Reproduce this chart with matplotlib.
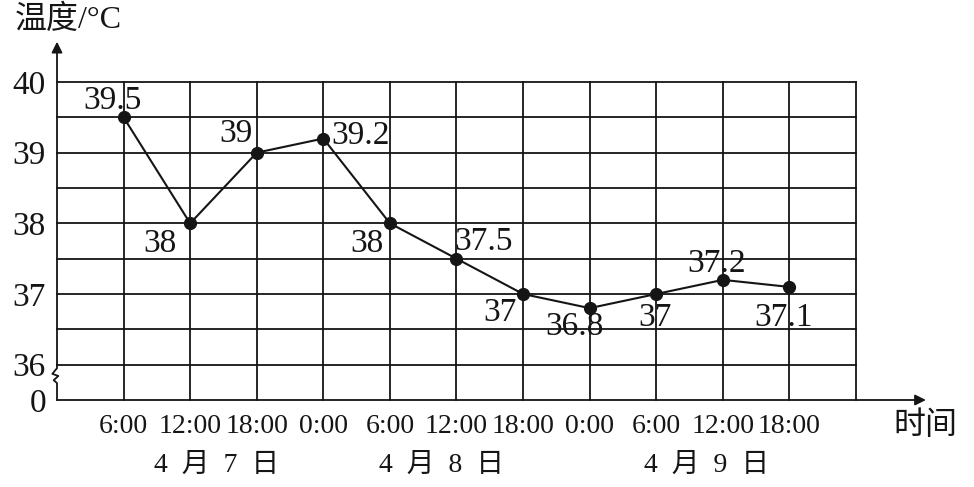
import matplotlib
matplotlib.use('Agg')
import matplotlib.pyplot as plt

plt.rcParams['font.family'] = ['Liberation Serif', 'Noto Sans CJK SC', 'DejaVu Sans']

# ── data ──────────────────────────────────────────────────────────────────
times = ['6:00', '12:00', '18:00', '0:00', '6:00', '12:00', '18:00',
         '0:00', '6:00', '12:00', '18:00']
temps = [39.5, 38, 39, 39.2, 38, 37.5, 37, 36.8, 37, 37.2, 37.1]
point_labels = ['39.5', '38', '39', '39.2', '38', '37.5', '37', '36.8', '37', '37.2', '37.1']
days = ['4  月  7  日', '4  月  8  日', '4  月  9  日']
y_ticks = [35.5, 36, 37, 38, 39, 40]
y_tick_labels = ['0', '36', '37', '38', '39', '40']

# label offsets (pixels) relative to each point
label_dx = [-11, -30, -21, 37, -23, 27, -23, -15, -1, -6, -6]
label_dy = [17, -20, 19, 3, -20, 17, -19, -19, -24, 16, -31]
day_x = [2.4, 5.77, 9.76]

ink = '#151515'
fig = plt.figure(figsize=(9.74, 4.87), dpi=100)
ax = fig.add_axes([57 / 974, 87 / 487, 799 / 974, 318 / 487])
ax.set_xlim(0, 12)
ax.set_ylim(35.5, 40)
for s in ax.spines.values():
    s.set_visible(False)

# grid
lw = 1.3
for gx in range(1, 13):
    ax.plot([gx, gx], [35.5, 40], color=ink, lw=lw, clip_on=False)
for k in range(1, 10):
    gy = 35.5 + 0.5 * k
    ax.plot([0, 12], [gy, gy], color=ink, lw=lw, clip_on=False)

# axes with arrows and break
ax.annotate('', xy=(13.05, 35.5), xytext=(0, 35.5),
            arrowprops=dict(arrowstyle='-|>', color=ink, lw=lw,
                            mutation_scale=16, shrinkA=0, shrinkB=0),
            annotation_clip=False)
ax.annotate('', xy=(0, 40.57), xytext=(0, 36),
            arrowprops=dict(arrowstyle='-|>', color=ink, lw=lw,
                            mutation_scale=16, shrinkA=0, shrinkB=0),
            annotation_clip=False)
zx = [0, 0, -0.07, 0.02, -0.05, 0, 0]
zy = [36, 35.95, 35.87, 35.84, 35.78, 35.74, 35.5]
ax.plot(zx, zy, color=ink, lw=lw, clip_on=False)

# line and points
xs = list(range(1, len(temps) + 1))
ax.plot(xs, temps, color=ink, lw=1.5, marker='o', markersize=8.5,
        clip_on=False, zorder=3)
for x, t, lab, dx, dy in zip(xs, temps, point_labels, label_dx, label_dy):
    ax.annotate(lab, xy=(x, t), xytext=(dx, dy), textcoords='offset pixels',
                ha='center', va='center', fontsize=24, color=ink)

# ticks
ax.set_xticks(xs)
ax.set_xticklabels(times, fontsize=20, color=ink)
ax.set_yticks(y_ticks)
ax.set_yticklabels(y_tick_labels, fontsize=24, color=ink)
ax.tick_params(axis='x', length=0, pad=10)
ax.tick_params(axis='y', length=0, pad=8)

for dx_, d in zip(day_x, days):
    ax.text(dx_, -0.205, d, transform=ax.get_xaxis_transform(),
            ha='center', va='center', fontsize=20, color=ink)

fig.text(68 / 974, 1 - 20 / 487, '温度/°C', ha='center', va='center',
         fontsize=23, color=ink)
fig.text(925 / 974, 1 - 426 / 487, '时间', ha='center', va='center',
         fontsize=23, color=ink)

fig.savefig('out.png', dpi=100, facecolor='white')
